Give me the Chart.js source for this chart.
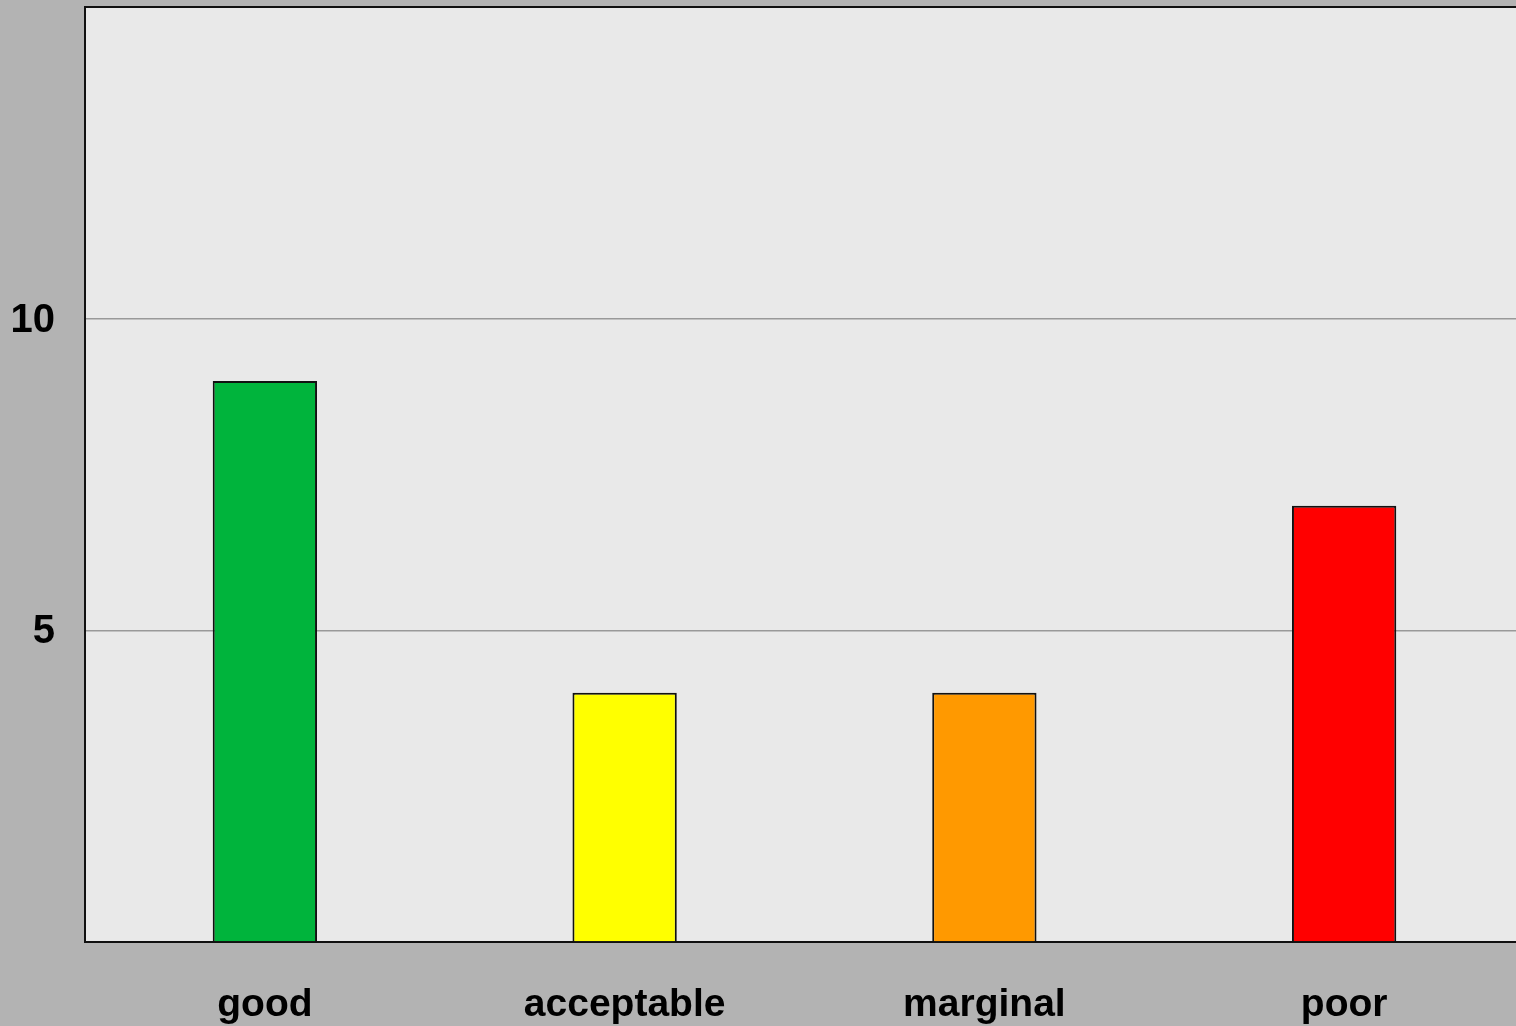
<!DOCTYPE html>
<html>
<head>
<meta charset="utf-8">
<title>Rating counts</title>
<script src="https://cdn.jsdelivr.net/npm/chart.js@4/dist/chart.umd.min.js"></script>
<style>
  html, body { margin: 0; padding: 0; background: #b3b3b3; overflow: hidden; }
  #wrap { width: 1524px; height: 1026px; }
</style>
</head>
<body>
<div id="wrap"><canvas id="ratings" width="1524" height="1026"></canvas></div>
<script>
const categories = ["good", "acceptable", "marginal", "poor"];
const counts = [9, 4, 4, 7];
const barColors = ["#00b43c", "#ffff00", "#ff9900", "#ff0000"];
const yTicks = [5, 10];

// grey plot area behind the bars
const plotBackground = {
  id: 'plotBackground',
  beforeDraw(chart) {
    const {ctx, chartArea: a} = chart;
    ctx.save();
    ctx.fillStyle = '#e9e9e9';
    ctx.fillRect(a.left, a.top, a.right - a.left, a.bottom - a.top);
    ctx.restore();
  }
};

const fontFamily = "'Liberation Sans', Arial, sans-serif";

new Chart(document.getElementById("ratings"), {
  type: 'bar',
  data: {
    labels: categories,
    datasets: [{
      data: counts,
      backgroundColor: barColors,
      borderColor: '#111',
      borderWidth: 2,
      barPercentage: 0.29,
      categoryPercentage: 1
    }]
  },
  options: {
    responsive: false,
    animation: false,
    layout: { padding: { top: 7, right: 0, left: 0, bottom: 0 } },
    plugins: { legend: { display: false }, tooltip: { enabled: false } },
    scales: {
      x: {
        grid: { drawOnChartArea: false, drawTicks: false },
        border: { display: true, color: '#111', width: 2 },
        ticks: { color: '#000', font: { family: fontFamily, size: 39, weight: 'bold' }, padding: 40, maxRotation: 0 },
        afterFit(scale) { scale.height = 84; }
      },
      y: {
        min: 0,
        max: 15,
        grid: {
          drawTicks: false,
          color: ctx => ctx.tick && ctx.tick.value === 15 ? '#111' : (ctx.tick && ctx.tick.value === 0 ? 'rgba(0,0,0,0)' : '#999'),
          lineWidth: ctx => ctx.tick && ctx.tick.value === 15 ? 2 : 1.5
        },
        border: { display: true, color: '#111', width: 2 },
        ticks: {
          stepSize: 5,
          color: '#000',
          font: { family: fontFamily, size: 40, weight: 'bold' },
          padding: 30,
          labelOffset: 2,
          callback: v => yTicks.includes(v) ? String(v) : ''
        },
        afterFit(scale) {
          scale.width = 85;
          scale.paddingTop = 0;
          scale.paddingBottom = 0;
        }
      }
    }
  },
  plugins: [plotBackground]
});
</script>
</body>
</html>
